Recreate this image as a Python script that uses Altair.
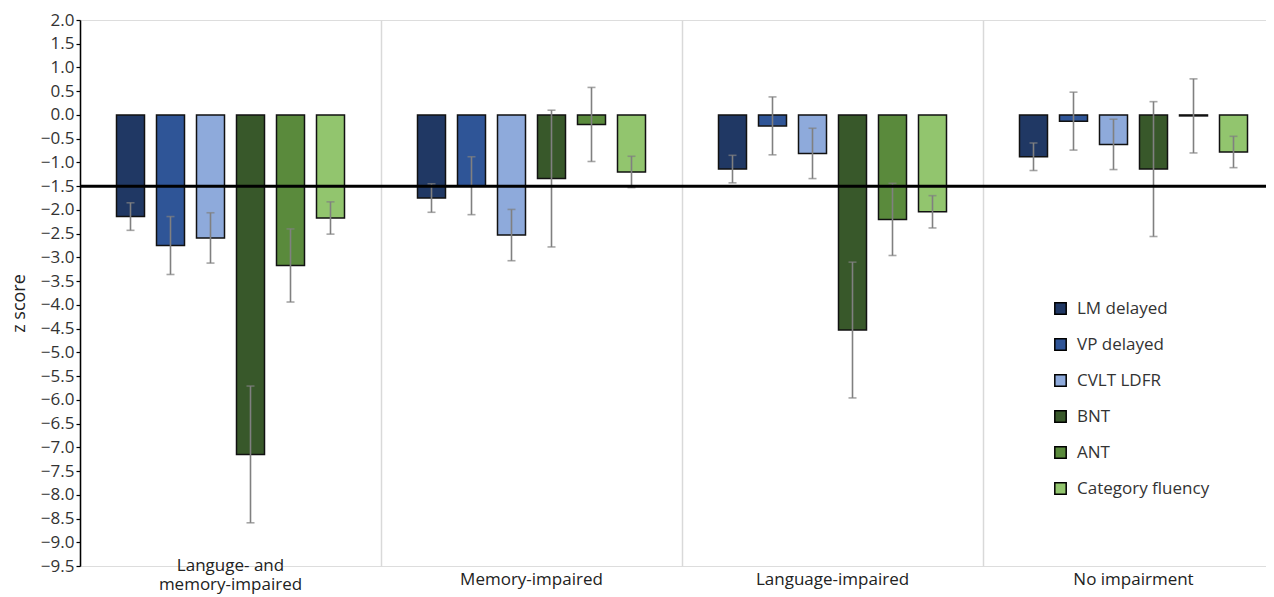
import altair as alt
import pandas as pd

groups = ["Languge- and\nmemory-impaired", "Memory-impaired", "Language-impaired", "No impairment"]
tests = ["LM delayed", "VP delayed", "CVLT LDFR", "BNT", "ANT", "Category fluency"]
colors = ["#203864", "#2f5597", "#8eaadb", "#38582a", "#5a8a3c", "#92c56e"]

values = [
    [-2.14, -2.75, -2.59, -7.15, -3.17, -2.17],
    [-1.75, -1.49, -2.53, -1.34, -0.20, -1.20],
    [-1.14, -0.23, -0.81, -4.53, -2.20, -2.04],
    [-0.88, -0.13, -0.62, -1.14, -0.02, -0.78],
]
errors = [
    [0.29, 0.61, 0.53, 1.44, 0.77, 0.34],
    [0.30, 0.61, 0.54, 1.44, 0.78, 0.33],
    [0.29, 0.61, 0.53, 1.43, 0.76, 0.34],
    [0.29, 0.61, 0.53, 1.42, 0.78, 0.33],
]
threshold = -1.5
y_ticks = [round(-9.5 + 0.5 * i, 1) for i in range(24)]

rows = []
for gi, g in enumerate(groups):
    for ti, t in enumerate(tests):
        v = values[gi][ti]
        e = errors[gi][ti]
        rows.append({"group": g, "test": t, "value": v, "lo": v - e, "hi": v + e})
df = pd.DataFrame(rows)

FONT = "Open Sans"
PLOT_W = 1186
GROUP_SPAN = 1204

x_enc = alt.X("group:N", sort=groups, title=None,
              scale=alt.Scale(paddingInner=0, paddingOuter=0, range=[0, GROUP_SPAN]),
              axis=alt.Axis(domain=False, ticks=False, grid=True, gridColor="#d9d9d9",
                            gridWidth=1.5, bandPosition=0, labelAngle=0,
                            labelFontSize=17, labelColor="#222222", labelFont=FONT,
                            labelBaseline="middle", labelLineHeight=19,
                            labelPadding={"condition": {"test": "indexof(datum.value, '\\n') >= 0",
                                                        "value": -1},
                                          "value": 13},
                            labelExpr="split(datum.label, '\\n')"))
xo_enc = alt.XOffset("test:N", sort=tests,
                     scale=alt.Scale(paddingInner=0.3, paddingOuter=0.9125))
y_scale = alt.Scale(domain=[-9.5, 2.0], nice=False, zero=False)

y_axis = alt.Axis(values=y_ticks, format=".1f", grid=False, domainColor="black",
                  domainWidth=1.5, tickColor="black", tickSize=4, tickWidth=1.2,
                  labelOverlap=False, labelFlush=False,
                  labelFontSize=17, labelColor="#333333", labelFont=FONT,
                  labelPadding=2, titleFontSize=18, titleFont=FONT, titleY=283,
                  titleFontWeight="normal", titleColor="#222222", titlePadding=12)

base = alt.Chart(df)

bars = base.mark_bar(stroke="#111111", strokeWidth=1.5).encode(
    x=x_enc,
    xOffset=xo_enc,
    y=alt.Y("value:Q", scale=y_scale, title="z score", axis=y_axis),
    y2=alt.datum(0),
    fill=alt.Fill("test:N", sort=tests, scale=alt.Scale(domain=tests, range=colors),
                  legend=alt.Legend(title=None, orient="none", legendX=972, legendY=280,
                                    symbolType="square", symbolSize=130,
                                    symbolStrokeColor="black", symbolStrokeWidth=1.5,
                                    symbolOpacity=1, labelFontSize=17, labelFont=FONT,
                                    labelColor="#333333", labelOffset=8, rowPadding=17,
                                    padding=0)),
)

err_rule = base.mark_rule(color="#808080", strokeWidth=1.6).encode(
    x=alt.X("group:N", sort=groups),
    xOffset=alt.XOffset("test:N", sort=tests),
    y=alt.Y("lo:Q", title="z score", axis=y_axis),
    y2="hi:Q",
)
cap_lo = base.mark_tick(color="#808080", thickness=1.6, size=8).encode(
    x=alt.X("group:N", sort=groups),
    xOffset=alt.XOffset("test:N", sort=tests),
    y=alt.Y("lo:Q", title="z score", axis=y_axis),
)
cap_hi = base.mark_tick(color="#808080", thickness=1.6, size=8).encode(
    x=alt.X("group:N", sort=groups),
    xOffset=alt.XOffset("test:N", sort=tests),
    y=alt.Y("hi:Q", title="z score", axis=y_axis),
)
line = alt.Chart(pd.DataFrame({"t": [threshold]})).mark_rule(color="black", strokeWidth=3).encode(
    y=alt.Y("t:Q", title="z score", axis=y_axis)
)

chart = alt.layer(bars, err_rule, cap_lo, cap_hi, line).properties(
    width=PLOT_W, height=546,
    autosize=alt.AutoSizeParams(type="none"),
    padding={"left": 72, "top": 12, "right": 0, "bottom": 31},
).configure_view(stroke=None).configure_axisY(labelOverlap=False).configure(background="white")

chart.save("out.html", embed_options={"renderer": "svg", "actions": False})
